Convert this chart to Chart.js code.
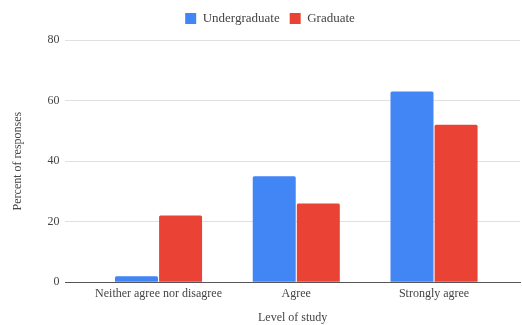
<!DOCTYPE html>
<html>
<head>
<meta charset="utf-8">
<script src="https://cdn.jsdelivr.net/npm/chart.js@4"></script>
<style>
  html, body { margin: 0; padding: 0; background: #fff; }
  #wrap { width: 522px; height: 325px; position: relative; }
</style>
</head>
<body>
<div id="wrap"><canvas id="c" width="522" height="325"></canvas></div>
<script>
// Survey responses by level of study (percent)
const categories = ['Neither agree nor disagree', 'Agree', 'Strongly agree'];
const undergraduate = [2, 35, 63];
const graduate = [22, 26, 52];
const yTicks = [0, 20, 40, 60, 80];

const FONT = "'Liberation Serif', 'DejaVu Serif', serif";
const TEXT = '#444';

const toPoints = vals => vals.map((v, i) => ({ x: i, y: v }));

// Extra space between the legend and the plot, and a slight rightward nudge of the legend
const legendPlacement = {
  id: 'legendPlacement',
  beforeInit(chart) {
    const fit = chart.legend.fit;
    chart.legend.fit = function () {
      fit.call(this);
      this.height += 5;
    };
  },
  afterLayout(chart) {
    chart.legend.left += 8;
    chart.legend.right += 8;
  }
};

new Chart(document.getElementById('c'), {
  type: 'bar',
  plugins: [legendPlacement],
  data: {
    datasets: [
      { label: 'Undergraduate', data: toPoints(undergraduate), backgroundColor: '#4285F4',
        categoryPercentage: 0.64, barPercentage: 0.975, borderRadius: 1.5 },
      { label: 'Graduate', data: toPoints(graduate), backgroundColor: '#EA4335',
        categoryPercentage: 0.64, barPercentage: 0.975, borderRadius: 1.5 }
    ]
  },
  options: {
    responsive: false,
    animation: false,
    layout: { padding: { left: 4, right: 2, top: 2, bottom: 0 } },
    plugins: {
      legend: {
        position: 'top',
        labels: {
          boxWidth: 11, boxHeight: 11, padding: 10,
          color: TEXT, font: { family: FONT, size: 13 }
        }
      },
      tooltip: { enabled: false }
    },
    scales: {
      x: {
        type: 'linear',
        offset: false,
        min: -0.676, max: 2.624,
        afterBuildTicks: s => { s.ticks = categories.map((_, i) => ({ value: i })); },
        ticks: {
          autoSkip: false, maxRotation: 0, padding: 4,
          color: TEXT, font: { family: FONT, size: 12 },
          callback: v => categories[v]
        },
        grid: { display: false, offset: false, drawTicks: false },
        border: { display: true, color: '#555', width: 1 },
        title: { display: true, text: 'Level of study', color: TEXT,
                 font: { family: FONT, size: 12 }, padding: { top: 6, bottom: 0 } }
      },
      y: {
        min: 0, max: 80,
        afterBuildTicks: s => { s.ticks = yTicks.map(v => ({ value: v })); },
        ticks: { color: TEXT, font: { family: FONT, size: 12 }, padding: 6 },
        grid: { color: '#e0e0e0', drawTicks: false },
        border: { display: false },
        title: { display: true, text: 'Percent of responses', color: TEXT,
                 font: { family: FONT, size: 12 }, padding: { top: 7, bottom: 16 } }
      }
    }
  }
});
</script>
</body>
</html>
